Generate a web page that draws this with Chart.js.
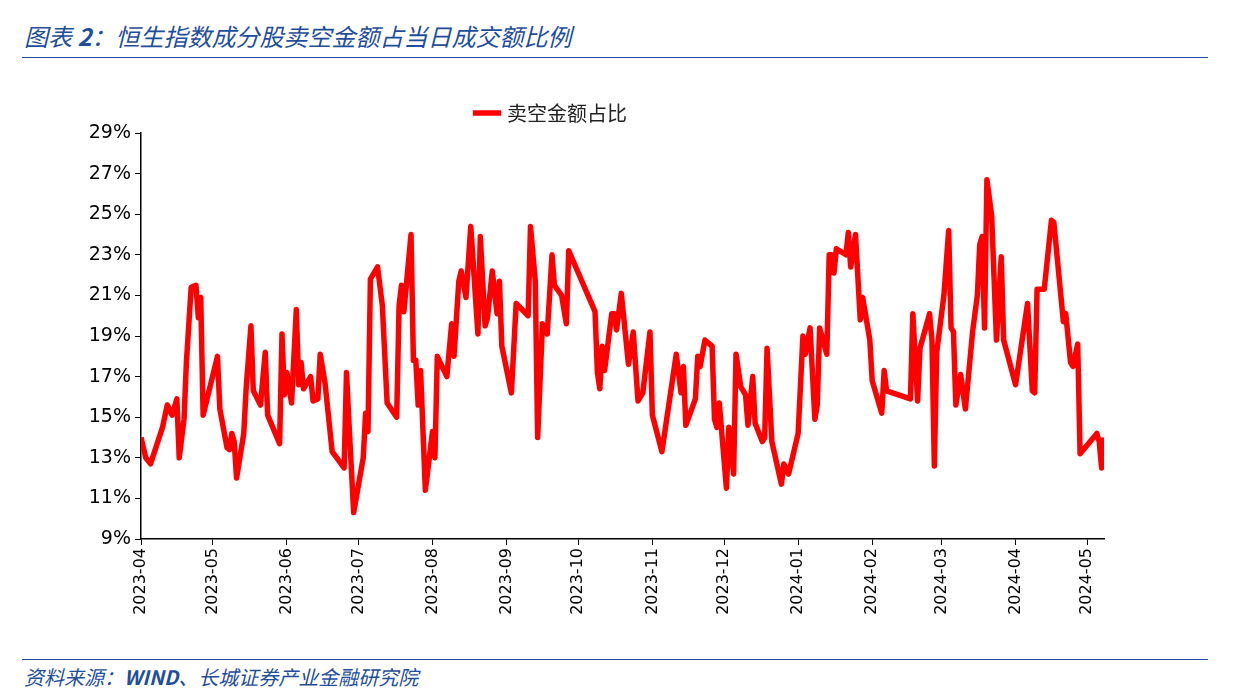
<!DOCTYPE html>
<html><head><meta charset="utf-8">
<script src="https://cdn.jsdelivr.net/npm/chart.js@4"></script>
<style>
body{margin:0;width:1239px;height:693px;background:#fff;position:relative;overflow:hidden;font-family:"DejaVu Sans",sans-serif}
#title{position:absolute;left:24px;top:18px;font-size:24px;font-style:italic;color:#1f4e9c;font-family:"Noto Sans CJK SC",sans-serif}
#l1{position:absolute;left:22px;top:57px;width:1186px;height:1px;background:#1f4e9c}
#l2{position:absolute;left:22px;top:659px;width:1186px;height:1px;background:#1f4e9c}
#foot{position:absolute;left:24px;top:662px;font-size:20px;font-style:italic;color:#1f4e9c;font-family:"Noto Sans CJK SC",sans-serif}
#wrap{position:absolute;left:0;top:70px;width:1239px;height:590px}
</style></head><body>
<div id="title">图表 <b>2</b>：恒生指数成分股卖空金额占当日成交额比例</div>
<div id="l1"></div>
<div id="wrap"><canvas id="c"></canvas></div>
<div id="l2"></div>
<div id="foot">资料来源：<b>WIND</b>、长城证券产业金融研究院</div>
<script>
const startDate = "2023-04-01";
const monthLabels = ["2023-04","2023-05","2023-06","2023-07","2023-08","2023-09","2023-10","2023-11","2023-12","2024-01","2024-02","2024-03","2024-04","2024-05"];
const seriesName = "卖空金额占比";
const dayOffsets = [0,2,4,9,11,13,15,16,18,19,21,23,24,25,26,32,33,36,37,38,39,40,43,44,46,47,50,52,53,58,59,60,61,63,65,66,67,68,71,72,74,75,77,80,85,86,87,89,93,94,95,96,99,101,103,107,108,109,110,113,114,115,116,117,119,122,123,124,128,130,131,133,134,136,138,141,142,144,145,147,149,150,151,155,157,162,163,165,166,168,170,172,173,176,178,179,190,191,192,193,194,197,198,199,201,204,206,208,210,213,214,218,221,224,226,227,228,232,233,234,236,239,240,241,242,245,246,248,249,251,253,254,256,257,260,261,262,264,268,269,271,275,277,278,280,282,283,284,287,288,289,290,291,295,296,297,299,301,302,305,306,310,311,312,322,323,325,326,330,331,332,333,336,338,339,340,341,343,345,348,350,351,352,353,354,356,358,360,361,366,371,373,374,375,378,381,382,386,387,389,390,392,393,400,401,402,403];
const shortRatio = [14.0,13.0,12.7,14.5,15.6,15.1,15.9,13.0,14.9,17.7,21.4,21.5,19.9,20.9,15.1,18.0,15.4,13.5,13.4,14.2,13.8,12.0,14.2,16.4,19.5,16.3,15.6,18.2,15.1,13.7,19.1,16.1,17.2,15.7,20.3,16.6,17.7,16.4,17.0,15.8,15.9,18.1,16.7,13.3,12.5,17.2,14.8,10.3,13.0,15.2,14.3,21.8,22.4,20.5,15.7,15.0,20.5,21.5,20.2,24.0,17.8,17.8,15.6,17.3,11.4,14.3,13.0,18.0,17.0,19.6,18.0,21.7,22.2,20.9,24.4,19.1,23.9,19.5,19.9,22.2,20.1,21.7,18.5,16.2,20.6,20.0,24.4,21.7,14.0,19.6,19.1,23.0,21.5,21.0,19.6,23.2,20.2,17.2,16.4,18.5,17.3,20.1,20.1,19.3,21.1,17.6,19.2,15.8,16.2,19.2,15.1,13.3,15.7,18.1,16.2,17.5,14.6,15.9,18.0,17.5,18.8,18.5,14.9,14.5,15.7,11.5,14.5,12.2,18.1,16.5,16.1,14.6,17.0,14.7,13.8,14.0,18.4,13.8,11.7,12.7,12.2,14.2,19.0,18.1,19.4,14.9,15.6,19.4,18.1,23.0,23.0,22.1,23.3,23.0,24.1,22.4,24.0,19.8,20.9,18.8,16.8,15.2,17.3,16.3,15.9,20.1,15.8,18.4,20.1,18.8,12.6,18.2,21.0,24.2,19.4,19.2,15.6,17.1,15.4,19.2,21.0,23.5,23.9,19.4,26.7,24.9,18.8,22.9,18.8,16.6,20.6,16.3,16.2,21.3,21.3,24.7,24.6,19.7,20.1,17.7,17.5,18.6,13.2,14.2,13.8,12.5,14.0];
const yTicks = [9,11,13,15,17,19,21,23,25,27,29];

const t0 = Date.parse(startDate);
const monthOffsets = monthLabels.map(m => Math.round((Date.parse(m + "-01") - t0) / 86400000));
const pts = dayOffsets.map((d, i) => ({x: d, y: shortRatio[i]}));
const tickFont = {family: "DejaVu Sans", size: 19};

const legendSpace = {
  id: 'legendSpace',
  beforeLayout(chart) {
    const lg = chart.legend;
    if (lg && !lg._patched) {
      const f = lg.fit.bind(lg);
      lg.fit = function () { f(); this.height += 17; };
      lg._patched = true;
    }
  }
};

new Chart(document.getElementById('c'), {
  type: 'line',
  data: {datasets: [{label: seriesName, data: pts, borderColor: '#ff0000', backgroundColor: '#ff0000', borderWidth: 5.5, pointRadius: 0, tension: 0, borderJoinStyle: 'round'}]},
  options: {
    responsive: true, maintainAspectRatio: false, animation: false,
    layout: {padding: {top: 13, right: 135, left: 0, bottom: 0}},
    plugins: {
      tooltip: {enabled: false},
      legend: {labels: {usePointStyle: true, pointStyle: 'line', font: {family: "Noto Sans CJK SC", size: 20}, color: '#222', padding: 20, boxWidth: 70}}
    },
    scales: {
      x: {type: 'linear', min: 0, max: 403,
        afterBuildTicks: s => { s.ticks = monthOffsets.map(v => ({value: v})); },
        afterFit: s => { s.height = 121; },
        grid: {drawOnChartArea: false, color: '#000', tickLength: 6, tickColor: '#000'},
        border: {color: '#000', width: 1.5},
        ticks: {autoSkip: false, minRotation: 90, maxRotation: 90, color: '#000', font: {family: "DejaVu Sans", size: 16},
          callback: v => { const i = monthOffsets.indexOf(v); return i >= 0 ? monthLabels[i] : ''; }}
      },
      y: {min: 9, max: 29,
        afterBuildTicks: s => { s.ticks = yTicks.map(v => ({value: v})); },
        afterFit: s => { s.width = 141; },
        grid: {drawOnChartArea: false, tickLength: 6, tickColor: '#000'},
        border: {color: '#000', width: 1.5},
        ticks: {color: '#000', font: tickFont, padding: 4, callback: v => v + '%'}
      }
    }
  }
});
</script>
</body></html>
